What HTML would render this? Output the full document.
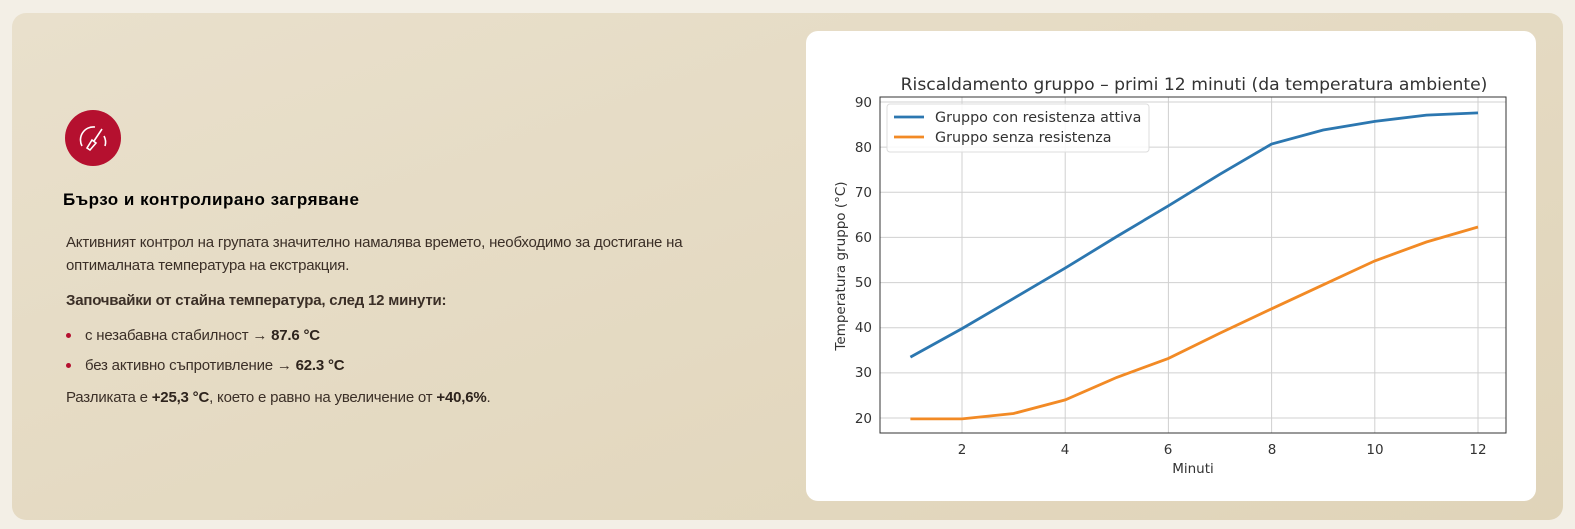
<!DOCTYPE html>
<html><head><meta charset="utf-8"><style>
body{margin:0;width:1575px;height:529px;background:#f3efe6;font-family:"Liberation Sans",sans-serif;position:relative;overflow:hidden}
.panel{position:absolute;left:12px;top:13px;width:1551px;height:507px;border-radius:14px;background:linear-gradient(160deg,#e9e0cc,#e0d4b9)}
.card{position:absolute;left:806px;top:31px;width:730px;height:470px;background:#fff;border-radius:12px}
.t{position:absolute;color:#3b2f27;font-size:15px;letter-spacing:-0.2px;white-space:nowrap}
b{color:#2e241d}
.dot{position:absolute;width:5px;height:5px;border-radius:50%;background:#b5102f}
</style></head><body>
<div class="panel"></div>
<svg style="position:absolute;left:65px;top:110px" width="56" height="56" viewBox="0 0 56 56">
<circle cx="28" cy="28" r="28" fill="#b5102f"/>
<path d="M17 36 A13 13 0 0 1 30 17" stroke="#fff" stroke-width="1.6" fill="none"/>
<path d="M39 26 A13 13 0 0 1 40 36" stroke="#fff" stroke-width="1.6" fill="none"/>
<path d="M37 19 L29 31 M27 30 L31 33 L25 40 L22 38 Z" stroke="#fff" stroke-width="1.6" fill="none"/>
</svg>
<div class="t" style="left:63px;top:190px;font-size:17px;font-weight:bold;color:#000;letter-spacing:0.5px">Бързо и контролирано загряване</div>
<div class="t" style="left:66px;top:234px">Активният контрол на групата значително намалява времето, необходимо за достигане на</div>
<div class="t" style="left:66px;top:257px">оптималната температура на екстракция.</div>
<div class="t" style="left:66px;top:292px;font-weight:bold">Започвайки от стайна температура, след 12 минути:</div>
<div class="dot" style="left:66px;top:333px"></div>
<div class="t" style="left:85px;top:327px">с незабавна стабилност → <b>87.6 °C</b></div>
<div class="dot" style="left:66px;top:363px"></div>
<div class="t" style="left:85px;top:357px">без активно съпротивление → <b>62.3 °C</b></div>
<div class="t" style="left:66px;top:389px">Разликата е <b>+25,3 °C</b>, което е равно на увеличение от <b>+40,6%</b>.</div>
<div class="card"></div>
<svg style="position:absolute;left:0;top:0" width="1575" height="529" font-family="DejaVu Sans, sans-serif">
<g stroke="#d0d0d0" stroke-width="1">
<line x1="962" y1="97" x2="962" y2="433"/><line x1="1065.2" y1="97" x2="1065.2" y2="433"/><line x1="1168.4" y1="97" x2="1168.4" y2="433"/><line x1="1271.6" y1="97" x2="1271.6" y2="433"/><line x1="1374.8" y1="97" x2="1374.8" y2="433"/><line x1="1478" y1="97" x2="1478" y2="433"/>
<line x1="880" y1="102" x2="1506" y2="102"/><line x1="880" y1="147.1" x2="1506" y2="147.1"/><line x1="880" y1="192.3" x2="1506" y2="192.3"/><line x1="880" y1="237.4" x2="1506" y2="237.4"/><line x1="880" y1="282.6" x2="1506" y2="282.6"/><line x1="880" y1="327.7" x2="1506" y2="327.7"/><line x1="880" y1="372.9" x2="1506" y2="372.9"/><line x1="880" y1="418" x2="1506" y2="418"/>
</g>
<rect x="880" y="97" width="626" height="336" fill="none" stroke="#333" stroke-width="1"/>
<g font-size="13.5" fill="#333" text-anchor="end">
<text x="872" y="107">90</text><text x="872" y="152">80</text><text x="872" y="197">70</text><text x="872" y="242">60</text><text x="872" y="287">50</text><text x="872" y="332">40</text><text x="872" y="377">30</text><text x="872" y="423">20</text>
</g>
<g font-size="13.5" fill="#333" text-anchor="middle">
<text x="962" y="454">2</text><text x="1065" y="454">4</text><text x="1168" y="454">6</text><text x="1272" y="454">8</text><text x="1375" y="454">10</text><text x="1478" y="454">12</text>
<text x="1193" y="473">Minuti</text>
<text x="1194" y="90" font-size="17.2">Riscaldamento gruppo – primi 12 minuti (da temperatura ambiente)</text>
<text transform="translate(845,266) rotate(-90)" font-size="13.5">Temperatura gruppo (°C)</text>
</g>
<polyline fill="none" stroke="#2c77b0" stroke-width="2.8" points="910.4,357.1 962,328.6 1013.6,298.4 1065.2,268.1 1116.8,236.5 1168.4,205.8 1220,174.2 1271.6,144 1323.2,130 1374.8,121.4 1426.4,115.1 1478,112.9"/>
<polyline fill="none" stroke="#f28a25" stroke-width="2.8" points="910.4,418.9 962,418.9 1013.6,413.5 1065.2,399.9 1116.8,377.4 1168.4,358.4 1220,333.1 1271.6,308.8 1323.2,284.8 1374.8,260.9 1426.4,242 1478,227"/>
<rect x="887" y="104" width="262" height="48" rx="3" fill="#fff" fill-opacity="0.85" stroke="#ddd"/>
<line x1="894" y1="117" x2="924" y2="117" stroke="#2c77b0" stroke-width="2.8"/>
<line x1="894" y1="137" x2="924" y2="137" stroke="#f28a25" stroke-width="2.8"/>
<g font-size="14.3" fill="#333"><text x="935" y="122">Gruppo con resistenza attiva</text><text x="935" y="142">Gruppo senza resistenza</text></g>
</svg>
</body></html>
